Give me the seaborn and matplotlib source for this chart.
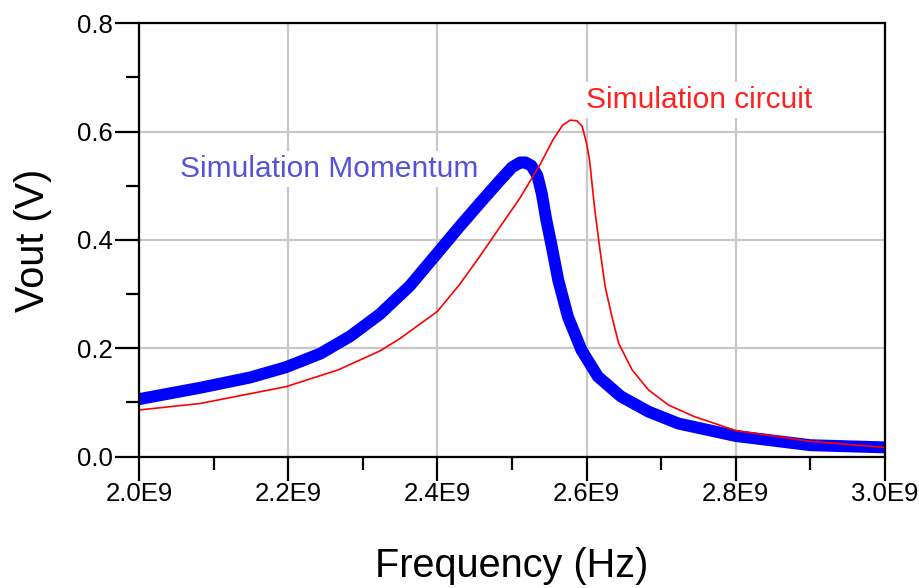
import pandas as pd
from matplotlib import pyplot as plt
from matplotlib.ticker import MultipleLocator
import seaborn as sns

# frequency [Hz] / Vout [V]
freq_momentum = [2.000e9, 2.082e9, 2.149e9, 2.197e9, 2.243e9, 2.283e9, 2.323e9, 2.363e9,
                 2.399e9, 2.430e9, 2.457e9, 2.484e9, 2.500e9, 2.511e9, 2.518e9, 2.526e9,
                 2.534e9, 2.540e9, 2.546e9, 2.553e9, 2.562e9, 2.575e9, 2.593e9, 2.615e9,
                 2.646e9, 2.683e9, 2.723e9, 2.800e9, 2.900e9, 3.000e9]
vout_momentum = [0.106, 0.127, 0.146, 0.165, 0.190, 0.222, 0.263, 0.315,
                 0.374, 0.425, 0.468, 0.510, 0.534, 0.543, 0.543, 0.537,
                 0.519, 0.485, 0.437, 0.390, 0.326, 0.258, 0.197, 0.148,
                 0.111, 0.083, 0.061, 0.038, 0.021, 0.017]

freq_circuit = [2.000e9, 2.082e9, 2.197e9, 2.267e9, 2.323e9, 2.350e9, 2.400e9, 2.430e9,
                2.457e9, 2.484e9, 2.511e9, 2.538e9, 2.555e9, 2.568e9, 2.578e9, 2.587e9,
                2.594e9, 2.600e9, 2.604e9, 2.611e9, 2.618e9, 2.625e9, 2.634e9, 2.643e9,
                2.661e9, 2.683e9, 2.710e9, 2.744e9, 2.800e9, 2.900e9, 3.000e9]
vout_circuit = [0.086, 0.098, 0.129, 0.160, 0.195, 0.218, 0.268, 0.318,
                0.370, 0.424, 0.478, 0.540, 0.585, 0.612, 0.621, 0.620,
                0.610, 0.578, 0.547, 0.455, 0.381, 0.313, 0.258, 0.209,
                0.160, 0.123, 0.095, 0.074, 0.048, 0.028, 0.017]

x_ticks = [2.0e9, 2.2e9, 2.4e9, 2.6e9, 2.8e9, 3.0e9]
x_tick_labels = ["2.0E9", "2.2E9", "2.4E9", "2.6E9", "2.8E9", "3.0E9"]
y_ticks = [0.0, 0.2, 0.4, 0.6, 0.8]
y_tick_labels = ["0.0", "0.2", "0.4", "0.6", "0.8"]

df_m = pd.DataFrame({"freq": freq_momentum, "vout": vout_momentum})
df_c = pd.DataFrame({"freq": freq_circuit, "vout": vout_circuit})

sns.set_style("white")
plt.rcParams["font.family"] = ["Liberation Sans", "DejaVu Sans"]

fig = plt.figure(figsize=(9.2, 5.88), dpi=100)
ax = fig.add_axes([0.151, 0.2235, 0.811, 0.737])

sns.lineplot(x="freq", y="vout", data=df_m, ax=ax, color="#0000ff", linewidth=8.6,
             sort=False, zorder=4, solid_capstyle="butt", solid_joinstyle="round")
sns.lineplot(x="freq", y="vout", data=df_c, ax=ax, color="#ff0000", linewidth=1.2,
             sort=False, zorder=5)

ax.set_xlim(2.0e9, 3.0e9)
ax.set_ylim(0.0, 0.8)
ax.set_xticks(x_ticks)
ax.set_xticklabels(x_tick_labels)
ax.set_yticks(y_ticks)
ax.set_yticklabels(y_tick_labels)
ax.xaxis.set_minor_locator(MultipleLocator(0.1e9))
ax.yaxis.set_minor_locator(MultipleLocator(0.1))

ax.grid(True, which="major", color="#c8c8c8", linewidth=1.6, zorder=1)
ax.set_axisbelow(True)
for s in ax.spines.values():
    s.set_color("black")
    s.set_linewidth(1.6)
    s.set_zorder(6)

ax.tick_params(which="major", direction="out", length=17, width=1.6, color="black",
               labelsize=18.5, labelcolor="black", pad=1.5, left=True, bottom=True)
ax.tick_params(which="minor", direction="out", length=9.5, width=1.6, color="black",
               left=True, bottom=True)

ax.set_xlabel("Frequency (Hz)", fontsize=28.5, labelpad=29, color="black")
ax.set_ylabel("Vout (V)", fontsize=28.5, labelpad=18, color="black")

ax.text(2.055e9, 0.516, "Simulation Momentum", color="#5252dc", fontsize=21.5,
        va="baseline", ha="left", zorder=3,
        bbox=dict(facecolor="white", edgecolor="none", pad=3))
ax.text(2.599e9, 0.643, "Simulation circuit", color="#ff2020", fontsize=21.5,
        va="baseline", ha="left", zorder=3,
        bbox=dict(facecolor="white", edgecolor="none", pad=3))

fig.savefig("out.png", dpi=100)
